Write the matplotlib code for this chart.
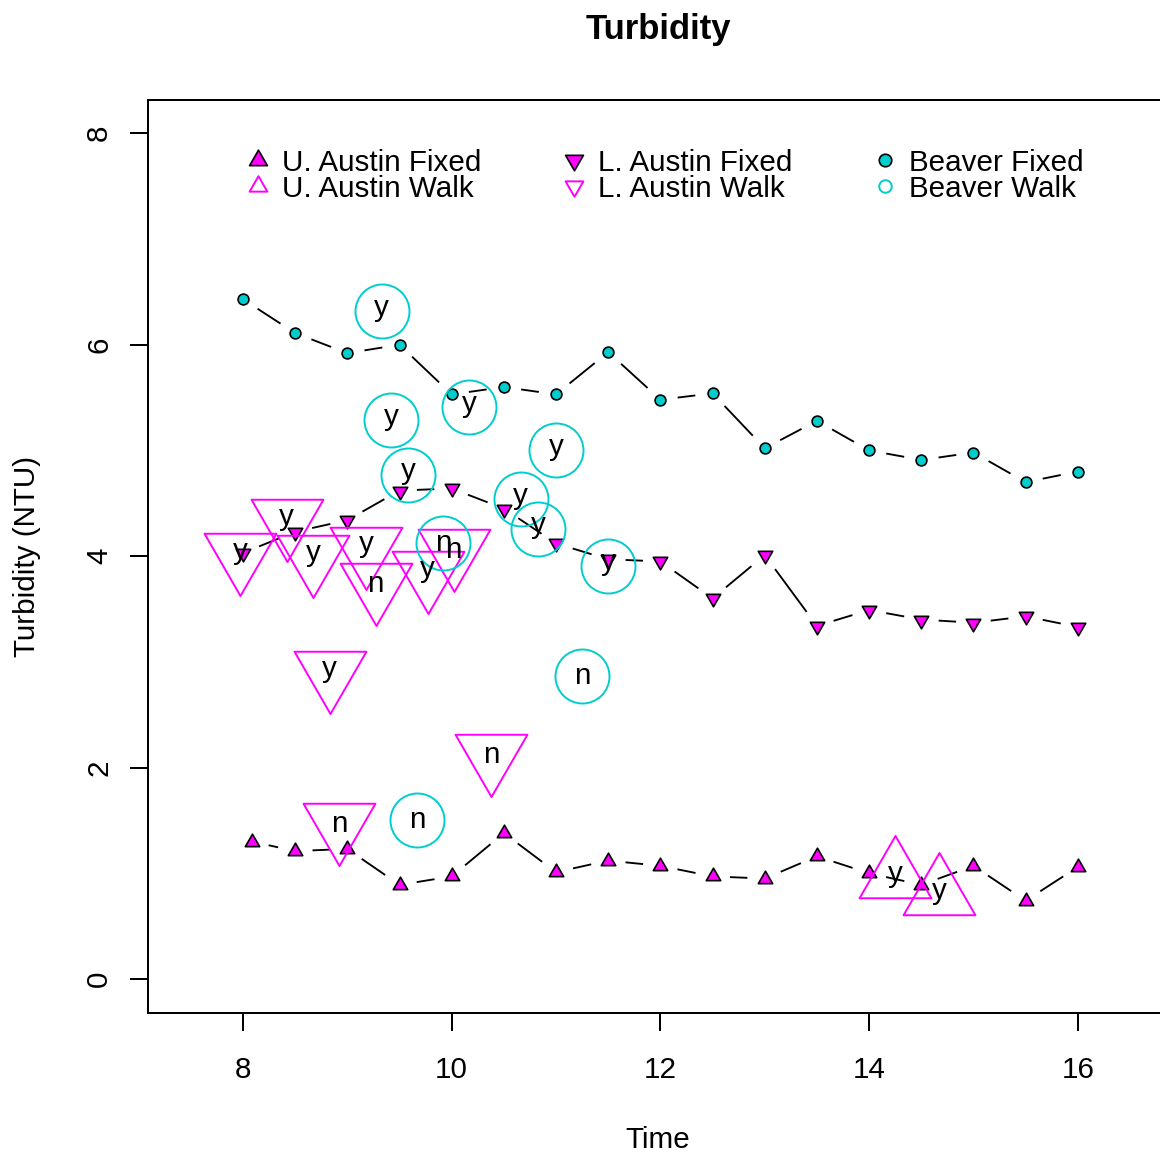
import numpy as np
import matplotlib
matplotlib.use('Agg')
import matplotlib.pyplot as plt
from matplotlib.path import Path
from matplotlib.lines import Line2D
from matplotlib.textpath import TextPath
from matplotlib.font_manager import FontProperties

plt.rcParams['font.family'] = ['Liberation Sans', 'DejaVu Sans']

# ---------------- data ----------------
fixed_times = [8.0, 8.5, 9.0, 9.5, 10.0, 10.5, 11.0, 11.5, 12.0, 12.5,
               13.0, 13.5, 14.0, 14.5, 15.0, 15.5, 16.0]
ua_fixed_times = [8.083, 8.5, 9.0, 9.5, 10.0, 10.5, 11.0, 11.5, 12.0, 12.5,
                  13.0, 13.5, 14.0, 14.5, 15.0, 15.5, 16.0]
ua_fixed = [1.30, 1.21, 1.23, 0.89, 0.97, 1.38, 1.01, 1.12, 1.07, 0.97,
            0.95, 1.16, 1.00, 0.89, 1.07, 0.74, 1.06]
la_fixed = [4.03, 4.23, 4.34, 4.62, 4.64, 4.45, 4.12, 3.97, 3.95, 3.60,
            4.01, 3.34, 3.49, 3.40, 3.37, 3.43, 3.33]
beaver_fixed = [6.43, 6.11, 5.92, 6.00, 5.53, 5.60, 5.53, 5.93, 5.48, 5.54,
                5.02, 5.28, 5.00, 4.91, 4.98, 4.70, 4.80]

ua_walk_times = [14.25, 14.67]
ua_walk = [0.965, 0.80]
ua_walk_lab = ['y', 'y']

la_walk_times = [7.97, 8.42, 8.67, 9.18, 9.27, 9.77, 10.02, 8.83, 10.38, 8.92]
la_walk = [4.02, 4.34, 4.00, 4.08, 3.74, 3.85, 4.06, 2.90, 2.12, 1.47]
la_walk_lab = ['y', 'y', 'y', 'y', 'n', 'y', 'n', 'y', 'n', 'n']

bv_walk_times = [9.33, 9.42, 10.17, 11.0, 9.58, 10.66, 10.83, 9.92, 11.5, 11.25, 9.67]
bv_walk = [6.32, 5.29, 5.41, 5.00, 4.77, 4.54, 4.26, 4.12, 3.91, 2.87, 1.50]
bv_walk_lab = ['y', 'y', 'y', 'y', 'y', 'y', 'y', 'n', 'y', 'n', 'n']

legend_labels = ['U. Austin Fixed', 'U. Austin Walk', 'L. Austin Fixed',
                 'L. Austin Walk', 'Beaver Fixed', 'Beaver Walk']
x_ticks = [8, 10, 12, 14, 16]
y_ticks = [0, 2, 4, 6, 8]

# ---------------- style ----------------
MAG = '#FF00FF'
CYN = '#00CDCD'
FS = 21.3
PX = 0.72  # points per pixel at dpi 100

TRI_UP = Path([(0, 1), (0.866, -0.5), (-0.866, -0.5), (0, 1)],
              [Path.MOVETO, Path.LINETO, Path.LINETO, Path.CLOSEPOLY])
TRI_DN = Path([(0, -1), (0.866, 0.5), (-0.866, 0.5), (0, -1)],
              [Path.MOVETO, Path.LINETO, Path.LINETO, Path.CLOSEPOLY])

ms_small_circ = 10.8 * PX
ms_small_tri = 2 * 8.3 * PX
ms_big_circ = 54 * PX
ms_big_tri = 2 * 41.5 * PX
ms_leg_circ = 12.5 * PX
ms_leg_tri = 2 * 10.3 * PX

W, H = 1160, 1152
fig = plt.figure(figsize=(W / 100, H / 100), dpi=100)
ax = fig.add_axes([148 / W, 1 - 1013 / H, 1020 / W, 913 / H])
ax.set_xlim(7.09, 16.864)
ax.set_ylim(-0.322, 8.315)

for s in ax.spines.values():
    s.set_linewidth(1.44)

ax.set_xticks(x_ticks)
ax.set_yticks(y_ticks)
ax.tick_params(direction='out', length=13.2, width=1.44, labelsize=FS)
ax.tick_params(axis='x', pad=17.6)
ax.tick_params(axis='y', pad=11.9, labelrotation=90)
for t in ax.get_yticklabels():
    t.set_va('center')


def type_b(x, y, gap_px=17.4, **kw):
    pts = ax.transData.transform(np.column_stack([x, y]))
    inv = ax.transData.inverted()
    for p, q in zip(pts[:-1], pts[1:]):
        d = q - p
        L = np.hypot(d[0], d[1])
        if L > 2 * gap_px:
            u = d / L
            a = inv.transform(p + u * gap_px)
            b = inv.transform(q - u * gap_px)
            ax.plot([a[0], b[0]], [a[1], b[1]], color='black', lw=1.35,
                    solid_capstyle='butt', zorder=2, **kw)


type_b(ua_fixed_times, ua_fixed)
type_b(fixed_times, la_fixed)
type_b(fixed_times, beaver_fixed)

ax.plot(ua_fixed_times, ua_fixed, ls='none', marker=TRI_UP, ms=ms_small_tri,
        mfc=MAG, mec='black', mew=1.2, zorder=3)
ax.plot(fixed_times, la_fixed, ls='none', marker=TRI_DN, ms=ms_small_tri,
        mfc=MAG, mec='black', mew=1.2, zorder=3)
ax.plot(fixed_times, beaver_fixed, ls='none', marker='o', ms=ms_small_circ,
        mfc=CYN, mec='black', mew=1.2, zorder=3)

ax.plot(ua_walk_times, ua_walk, ls='none', marker=TRI_UP, ms=ms_big_tri,
        mfc='none', mec=MAG, mew=1.4, zorder=4)
ax.plot(la_walk_times, la_walk, ls='none', marker=TRI_DN, ms=ms_big_tri,
        mfc='none', mec=MAG, mew=1.4, zorder=4)
ax.plot(bv_walk_times, bv_walk, ls='none', marker='o', ms=ms_big_circ,
        mfc='none', mec=CYN, mew=1.4, zorder=4)

fp = FontProperties(family='Liberation Sans', size=FS)


def label_at(xs, ys, labs):
    for x, y, s in zip(xs, ys, labs):
        ext = TextPath((0, 0), s, prop=fp).get_extents()
        dy = -(ext.y0 + ext.y1) / 2
        ax.annotate(s, (x, y), xytext=(0, dy), textcoords='offset points',
                    ha='center', va='baseline', fontsize=FS, color='black',
                    zorder=5)


label_at(ua_walk_times, ua_walk, ua_walk_lab)
label_at(la_walk_times, la_walk, la_walk_lab)
label_at(bv_walk_times, bv_walk, bv_walk_lab)

handles = [
    Line2D([], [], ls='none', marker=TRI_UP, ms=ms_leg_tri, mfc=MAG, mec='black', mew=1.2),
    Line2D([], [], ls='none', marker=TRI_UP, ms=ms_leg_tri, mfc='none', mec=MAG, mew=1.4),
    Line2D([], [], ls='none', marker=TRI_DN, ms=ms_leg_tri, mfc=MAG, mec='black', mew=1.2),
    Line2D([], [], ls='none', marker=TRI_DN, ms=ms_leg_tri, mfc='none', mec=MAG, mew=1.4),
    Line2D([], [], ls='none', marker='o', ms=ms_leg_circ, mfc=CYN, mec='black', mew=1.2),
    Line2D([], [], ls='none', marker='o', ms=ms_leg_circ, mfc='none', mec=CYN, mew=1.4),
]
ax.legend(handles, legend_labels, ncol=3, frameon=False, loc='upper left',
          bbox_to_anchor=((249.1 - 148) / 1020, (1013 - 148.8) / 913),
          borderaxespad=0, borderpad=0, handlelength=0.6, handletextpad=0.51,
          columnspacing=2.84, labelspacing=-0.07, fontsize=FS, numpoints=1)

ax.set_title('Turbidity', fontsize=25, fontweight='bold', pad=43.7)
ax.set_xlabel('Time', fontsize=FS)
ax.set_ylabel('Turbidity (NTU)', fontsize=FS)
ax.xaxis.set_label_coords(0.5, (1013 - 1126.3) / 913)
ax.yaxis.set_label_coords((41.1 - 148) / 1020, 0.5)

fig.savefig('out.png', dpi=100)
